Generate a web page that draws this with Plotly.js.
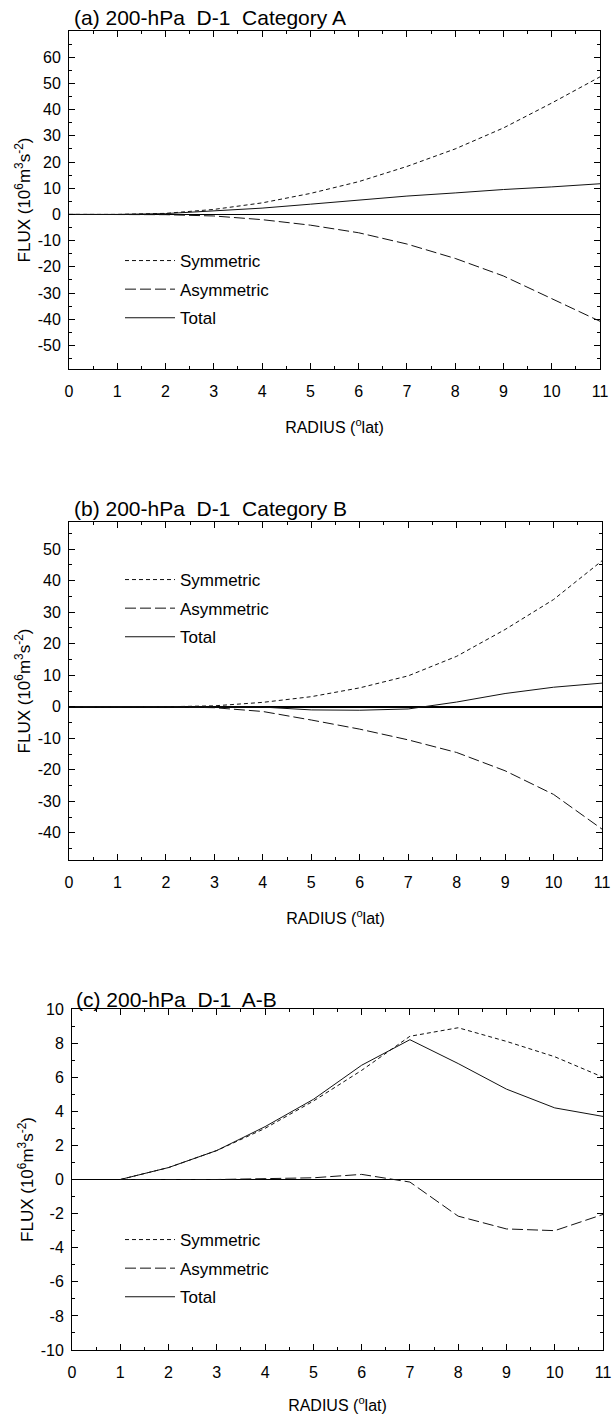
<!DOCTYPE html>
<html><head><meta charset="utf-8">
<script src="https://cdn.plot.ly/plotly-3.0.1.min.js"></script>
<style>html,body{margin:0;padding:0;background:#fff}#chart{width:613px;height:1414px}</style>
</head><body><div id="chart"></div>
<script>
// ---- data ----
const radiusAB = [0, 1, 2, 3, 4, 5, 6, 7, 8, 9, 10, 11];
const symA   = [0, 0, 0.4, 1.9, 4.4, 8.0, 12.5, 18.3, 25.0, 33.0, 42.5, 52.5];
const asymA  = [0, 0, -0.1, -0.6, -2.0, -4.1, -7.0, -11.3, -16.8, -23.5, -32.0, -40.8];
const totalA = [0, 0, 0.3, 1.3, 2.4, 3.9, 5.5, 7.0, 8.2, 9.5, 10.5, 11.7];

const symB   = [0, 0, 0, 0.3, 1.4, 3.2, 6.0, 9.8, 16.0, 24.5, 34.0, 46.3];
const asymB  = [0, 0, 0, -0.3, -1.5, -4.2, -7.1, -10.5, -14.5, -20.3, -27.8, -38.8];
const totalB = [0, 0, 0, 0, -0.1, -1.0, -1.1, -0.7, 1.5, 4.2, 6.2, 7.5];

const radiusC = [1, 2, 3, 4, 5, 6, 7, 8, 9, 10, 11];
const symC    = [0, 0.7, 1.7, 3.0, 4.6, 6.4, 8.4, 8.9, 8.1, 7.2, 6.0];
const asymC   = [0, 0, 0, 0.05, 0.1, 0.3, -0.15, -2.15, -2.9, -3.0, -2.05];
const totalC  = [0, 0.7, 1.7, 3.1, 4.7, 6.7, 8.2, 6.8, 5.3, 4.2, 3.7];

const seriesNames = ['Symmetric', 'Asymmetric', 'Total'];
const radiusTicks = [0, 1, 2, 3, 4, 5, 6, 7, 8, 9, 10, 11];
const fluxTicksA = [-50, -40, -30, -20, -10, 0, 10, 20, 30, 40, 50, 60];
const fluxTicksB = [-40, -30, -20, -10, 0, 10, 20, 30, 40, 50];
const fluxTicksC = [-10, -8, -6, -4, -2, 0, 2, 4, 6, 8, 10];
const panelTitles = ['(a) 200-hPa  D-1  Category A', '(b) 200-hPa  D-1  Category B', '(c) 200-hPa  D-1  A-B'];
const xTitle = 'RADIUS (<sup>o</sup>lat)';
const yTitle = 'FLUX (10<sup>6</sup>m<sup>3</sup>s<sup>-2</sup>)';

// ---- layout helpers ----
const W = 613, H = 1414;
const fam = '"Liberation Sans", Arial, Helvetica, sans-serif';
const px = v => v / W;
const py = v => 1 - v / H;
const dashes = ['4px,3px', '11px,4px', 'solid'];

function xax(l, r, anchor) {
  return {
    domain: [px(l), px(r)], anchor: anchor, range: [0, 11],
    tickmode: 'array', tickvals: radiusTicks, ticktext: radiusTicks.map(String),
    ticks: 'inside', ticklen: 6, tickwidth: 1, tickcolor: '#000',
    minor: {ticks: 'inside', ticklen: 3, tickwidth: 1, tickcolor: '#000', tickmode: 'linear', tick0: 0, dtick: 0.5},
    showline: true, linecolor: '#000', linewidth: 1, mirror: 'ticks',
    showgrid: false, zeroline: false, ticklabelstandoff: 8,
    tickfont: {size: 16, color: '#000'},
    title: {text: xTitle, font: {size: 16, color: '#000'}, standoff: 22}
  };
}
function yax(top, bot, anchor, range, ticks, mdt) {
  return {
    domain: [py(bot), py(top)], anchor: anchor, range: range,
    tickmode: 'array', tickvals: ticks, ticktext: ticks.map(String),
    ticks: 'inside', ticklen: 6, tickwidth: 1, tickcolor: '#000',
    minor: {ticks: 'inside', ticklen: 3, tickwidth: 1, tickcolor: '#000', tickmode: 'linear', tick0: 0, dtick: mdt},
    showline: true, linecolor: '#000', linewidth: 1, mirror: 'ticks',
    showgrid: false, zeroline: true, zerolinecolor: '#000', zerolinewidth: 1.5,
    ticklabelstandoff: 4,
    tickfont: {size: 16, color: '#000'},
    title: {text: yTitle, font: {size: 17, color: '#000'}, standoff: 2}
  };
}

const panels = [
  {x: radiusAB, ys: [symA, asymA, totalA], xa: 'x', ya: 'y', lg: 'legend'},
  {x: radiusAB, ys: [symB, asymB, totalB], xa: 'x2', ya: 'y2', lg: 'legend2'},
  {x: radiusC, ys: [symC, asymC, totalC], xa: 'x3', ya: 'y3', lg: 'legend3'}
];
const traces = [];
panels.forEach((p, pi) => {
  p.ys.forEach((yv, si) => {
    traces.push({
      type: 'scatter', mode: 'lines', x: p.x, y: yv, xaxis: p.xa, yaxis: p.ya,
      name: seriesNames[si], legend: p.lg, legendgroup: 'g' + pi + si,
      line: {color: '#111', width: 1, dash: dashes[si]}, hoverinfo: 'skip'
    });
  });
});

function leg(left, top) {
  return {x: px(left), y: py(top), xanchor: 'left', yanchor: 'top',
    bgcolor: 'rgba(0,0,0,0)', borderwidth: 0, font: {size: 17, color: '#000', family: fam},
    traceorder: 'grouped', tracegroupgap: 3.5, itemwidth: 50};
}

const layout = {
  width: W, height: H, margin: {l: 0, r: 0, t: 0, b: 0},
  paper_bgcolor: '#fff', plot_bgcolor: '#fff',
  font: {family: fam, color: '#000'},
  showlegend: true,
  xaxis: xax(69, 600, 'y'), yaxis: yax(31, 369, 'x', [-59, 70], fluxTicksA, 5),
  xaxis2: xax(69, 602, 'y2'), yaxis2: yax(522, 860, 'x2', [-48.6, 58.6], fluxTicksB, 5),
  xaxis3: xax(72, 603, 'y3'), yaxis3: yax(1009, 1350, 'x3', [-10, 10], fluxTicksC, 1),
  legend: leg(120, 243), legend2: leg(120, 562), legend3: leg(120, 1222),
  annotations: [
    {text: panelTitles[0], xref: 'paper', yref: 'paper', x: px(72), y: py(17.5), xanchor: 'left', yanchor: 'middle', showarrow: false, font: {size: 21}},
    {text: panelTitles[1], xref: 'paper', yref: 'paper', x: px(72), y: py(508.5), xanchor: 'left', yanchor: 'middle', showarrow: false, font: {size: 21}},
    {text: panelTitles[2], xref: 'paper', yref: 'paper', x: px(74), y: py(999.5), xanchor: 'left', yanchor: 'middle', showarrow: false, font: {size: 21}}
  ]
};
Plotly.newPlot('chart', traces, layout, {displayModeBar: false, staticPlot: true});
</script></body></html>
